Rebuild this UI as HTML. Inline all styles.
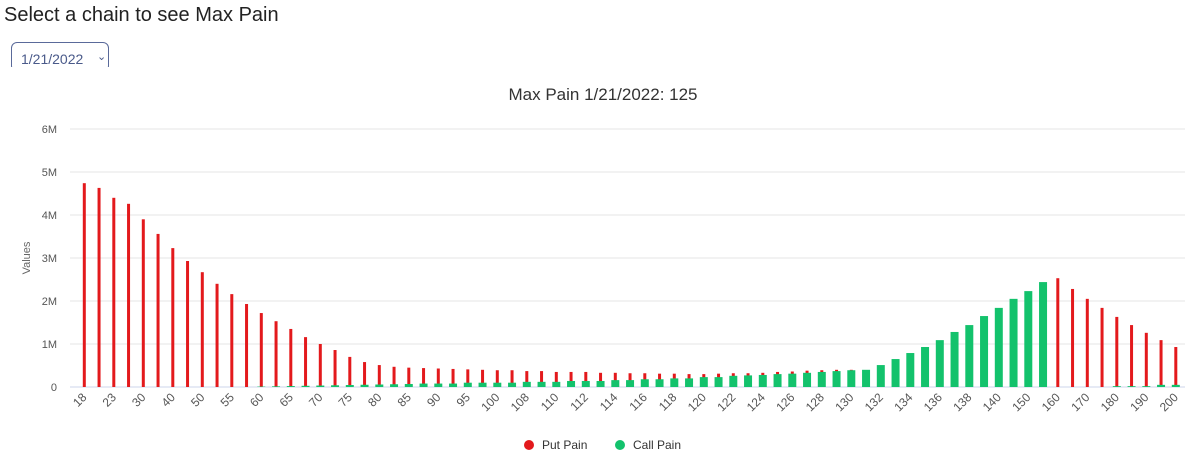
<!DOCTYPE html>
<html><head><meta charset="utf-8"><style>
body{margin:0;background:#fff;width:1187px;height:462px;overflow:hidden;font-family:"Liberation Sans",sans-serif;}
#h{position:absolute;left:4px;top:4px;font-size:20px;color:#222;}
#sel{position:absolute;left:11px;top:42px;width:98px;height:30px;border:1px solid #5a6a9a;border-radius:6px;box-sizing:border-box;font-size:14px;color:#4a5a8a;padding:8px 0 0 9px;}
#sel span{position:absolute;left:85px;top:7px;font-size:11px;}
#cut{position:absolute;left:0;top:67px;width:200px;height:10px;background:#fff;}
svg{position:absolute;left:0;top:0;}
</style></head><body>
<div id="h">Select a chain to see Max Pain</div>
<div id="sel">1/21/2022<span>&#8964;</span></div><div id="cut"></div>
<svg id="s" width="1187" height="462" font-family="Liberation Sans, sans-serif">
<text x="603" y="100" text-anchor="middle" font-size="17" fill="#333">Max Pain 1/21/2022: 125</text>
<text transform="translate(30,258) rotate(-90)" text-anchor="middle" font-size="11" fill="#666">Values</text>
<circle cx="529" cy="445" r="5" fill="#e3191c"/><text x="542" y="449" font-size="12" fill="#333">Put Pain</text>
<circle cx="620" cy="445" r="5" fill="#13c26c"/><text x="633" y="449" font-size="12" fill="#333">Call Pain</text>
</svg>
<script>
var s=document.getElementById('s'),N='http://www.w3.org/2000/svg';
function el(t,a,tx){var e=document.createElementNS(N,t);for(var k in a)e.setAttribute(k,a[k]);if(tx)e.textContent=tx;s.appendChild(e);return e;}
var B=387,U=43;
for(var m=0;m<=6;m++){var y=B-m*U;el('line',{x1:70,x2:1185,y1:y,y2:y,stroke:m?'#e6e6e6':'#ccd6eb','stroke-width':1});el('text',{x:57,y:y+4,'text-anchor':'end','font-size':11,fill:'#555'},m?m+'M':'0');}
var red=[4.74,4.63,4.40,4.26,3.90,3.56,3.23,2.93,2.67,2.40,2.16,1.93,1.72,1.53,1.35,1.16,1.00,0.86,0.70,0.58,0.51,0.47,0.45,0.44,0.43,0.42,0.41,0.40,0.39,0.39,0.37,0.37,0.35,0.35,0.35,0.33,0.33,0.32,0.32,0.31,0.31,0.30,0.30,0.31,0.32,0.32,0.33,0.35,0.36,0.38,0.39,0.40,0.40,0,0,0,0,0,0,0,0,0,0,0,0,0,2.53,2.28,2.05,1.84,1.63,1.44,1.26,1.09,0.93];
var gmid=[0.08,0.08,0.08,0.1,0.1,0.1,0.1,0.12,0.12,0.12,0.14,0.14,0.14,0.16,0.16,0.18,0.18,0.20,0.20,0.23,0.23,0.26,0.27,0.28,0.30,0.31,0.33,0.35];
var gt=[0.37,0.39,0.40,0.51,0.65,0.79,0.93,1.09,1.28,1.44,1.65,1.84,2.05,2.23,2.44];
var W=14.75,X0=84.3;
for(var i=0;i<75;i++){var c=X0+i*W,g=0;
 if(i>=12&&i<=22)g=0.01+(i-12)*0.006;else if(i>=23&&i<=50)g=gmid[i-23];else if(i>50&&i<=65)g=gt[i-51];else if(i>=70)g=[0.02,0.02,0.02,0.05,0.05][i-70];
 if(red[i]>0)el('rect',{x:c-1.5,y:B-red[i]*U,width:3,height:red[i]*U,fill:'#e3191c'});
 if(g>0)el('rect',{x:c-4,y:B-g*U,width:8,height:g*U,fill:'#13c26c'});}
var L=[18,23,30,40,50,55,60,65,70,75,80,85,90,95,100,108,110,112,114,116,118,120,122,124,126,128,130,132,134,136,138,140,150,160,170,180,190,200];
for(var k=0;k<L.length;k++){var c=X0+2*k*W;el('text',{transform:'translate('+(c+3)+',398) rotate(-45)','text-anchor':'end','font-size':12,fill:'#555'},String(L[k]));}
</script>
</body></html>
